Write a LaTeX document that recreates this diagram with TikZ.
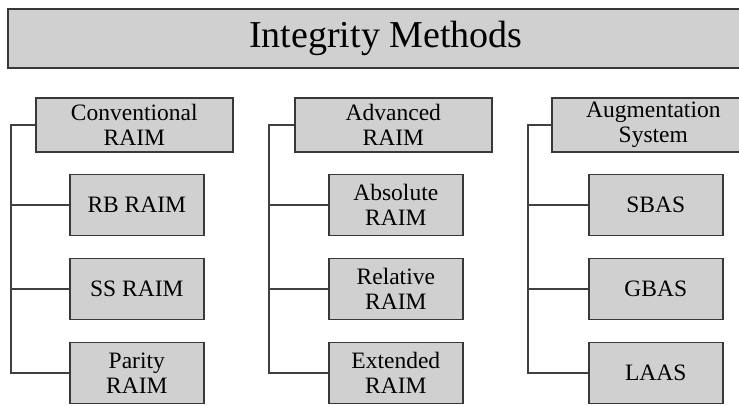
\documentclass[tikz,border=0pt]{standalone}
\usepackage{fontspec}
\setmainfont{Liberation Serif}
\definecolor{boxfill}{HTML}{D0D0D0}
\definecolor{boxline}{HTML}{383838}
\definecolor{linkcol}{HTML}{404040}
\begin{document}
\begin{tikzpicture}[x=1pt,y=-1pt,
  box/.style={draw=boxline, line width=1.6pt, fill=boxfill, inner sep=0pt,
    align=center, font=\fontsize{23.5}{24.5}\selectfont},
  head/.style={box, minimum width=197pt, minimum height=54pt},
  leaf/.style={box, minimum width=134pt, minimum height=61pt},
  link/.style={draw=linkcol, line width=1.8pt}]
\useasboundingbox (0,0) rectangle (739,405);

% title bar
\node[box, anchor=north west, minimum width=756pt, minimum height=59pt,
  font=\fontsize{38}{40}\selectfont] (title) at (7,8) {Integrity Methods};

% column 1
\node[head, anchor=west] (conv) at (35,125) {Conventional\\RAIM};
\node[leaf, anchor=west] (rb) at (69,205) {RB RAIM};
\node[leaf, anchor=west] (ss) at (69,289) {SS RAIM};
\node[leaf, anchor=west] (par) at (69,373) {Parity\\RAIM};
\coordinate (c1) at (11,125);

% column 2
\node[head, anchor=west] (adv) at (294,125) {Advanced\\RAIM};
\node[leaf, anchor=west] (abs) at (328,205) {Absolute\\RAIM};
\node[leaf, anchor=west] (rel) at (328,289) {Relative\\RAIM};
\node[leaf, anchor=west] (ext) at (328,373) {Extended\\RAIM};
\coordinate (c2) at (269,125);

% column 3
\node[head, anchor=west, minimum width=203pt] (aug) at (551,125)
  {\raisebox{5pt}{\begin{tabular}{@{}c@{}}Augmentation\\System\end{tabular}}};
\node[leaf, anchor=west] (sbas) at (588,205) {SBAS};
\node[leaf, anchor=west] (gbas) at (588,289) {GBAS};
\node[leaf, anchor=west] (laas) at (588,373) {LAAS};
\coordinate (c3) at (528,125);

% tree connectors
\draw[link] (conv.west) -- (c1) -- (c1 |- par.west) -- (par.west);
\draw[link] (c1 |- rb.west) -- (rb.west);
\draw[link] (c1 |- ss.west) -- (ss.west);

\draw[link] (adv.west) -- (c2) -- (c2 |- ext.west) -- (ext.west);
\draw[link] (c2 |- abs.west) -- (abs.west);
\draw[link] (c2 |- rel.west) -- (rel.west);

\draw[link] (aug.west) -- (c3) -- (c3 |- laas.west) -- (laas.west);
\draw[link] (c3 |- sbas.west) -- (sbas.west);
\draw[link] (c3 |- gbas.west) -- (gbas.west);
\end{tikzpicture}
\end{document}
